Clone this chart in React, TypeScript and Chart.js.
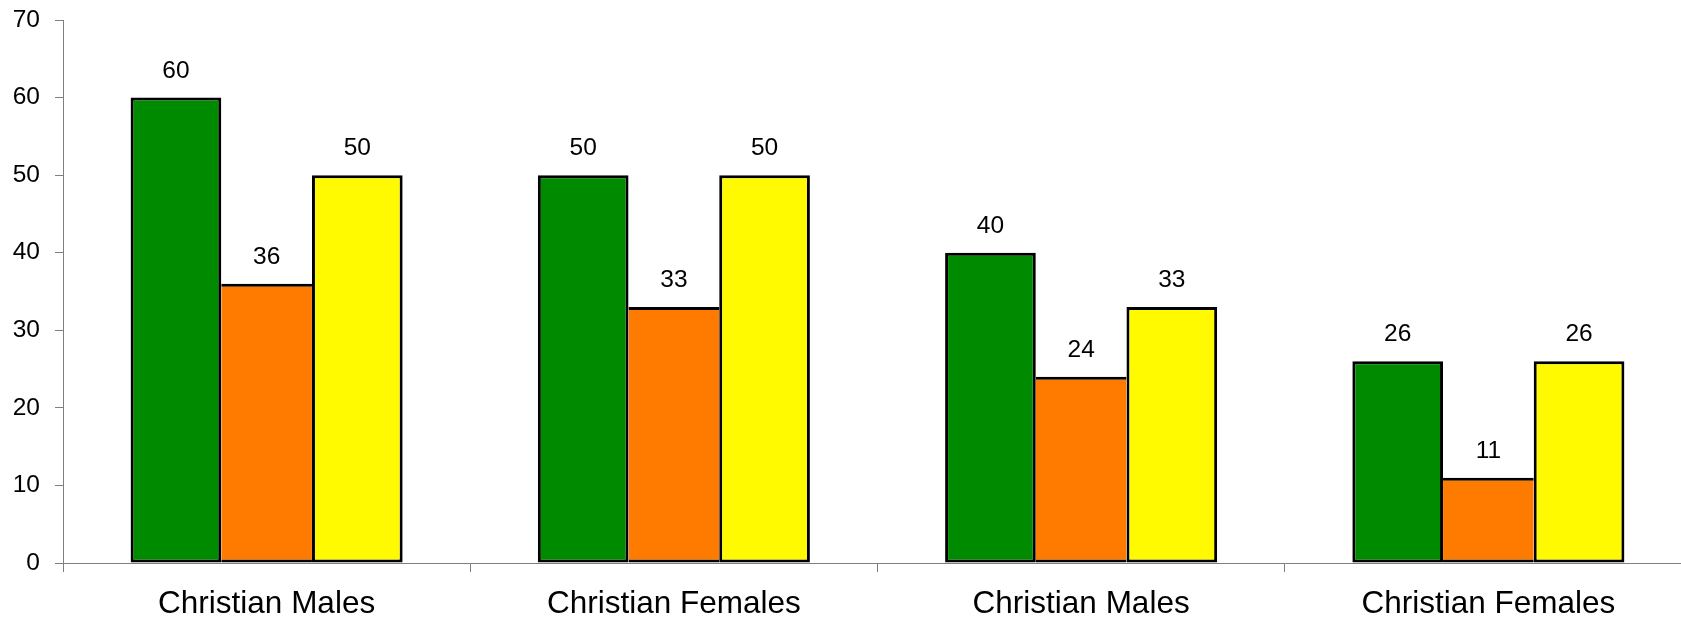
import { useEffect, useRef } from "react";
import { Chart, registerables } from "chart.js";

Chart.register(...registerables);

const categories = ["Christian Males", "Christian Females", "Christian Males", "Christian Females"];
const greenValues = [60, 50, 40, 26];
const orangeValues = [36, 33, 24, 11];
const yellowValues = [50, 50, 33, 26];
const yMin = 0;
const yMax = 70;
const yStep = 10;

const FONT = "'Liberation Sans', Arial, sans-serif";
const AXIS_GRAY = "#7f7f7f";

const valueLabels = {
  id: "valueLabels",
  afterDatasetsDraw(chart: any) {
    const ctx = chart.ctx;
    ctx.save();
    ctx.font = `24.5px ${FONT}`;
    ctx.fillStyle = "#000";
    ctx.textAlign = "center";
    ctx.textBaseline = "alphabetic";
    chart.data.datasets.forEach((ds: any, di: number) => {
      const meta = chart.getDatasetMeta(di);
      meta.data.forEach((el: any, i: number) => {
        ctx.fillText(String(ds.data[i]), el.x, el.y - 20);
      });
    });
    ctx.restore();
  },
};

export default function App() {
  const ref = useRef<HTMLCanvasElement | null>(null);
  useEffect(() => {
    if (!ref.current) return;
    const chart = new Chart(ref.current, {
      type: "bar",
      data: {
        labels: categories,
        datasets: [
          {
            data: greenValues,
            backgroundColor: "#008a00",
            borderColor: "#000",
            borderWidth: 3,
            borderSkipped: false,
          },
          {
            data: orangeValues,
            backgroundColor: "#ff7b00",
            borderColor: "#000",
            borderWidth: { top: 3, bottom: 3, left: 0, right: 0 },
            borderSkipped: false,
          },
          {
            data: yellowValues,
            backgroundColor: "#fffa00",
            borderColor: "#000",
            borderWidth: 3,
            borderSkipped: false,
          },
        ],
      },
      options: {
        responsive: false,
        animation: false,
        events: [],
        layout: { padding: { left: 0, top: 20, right: 28, bottom: 0 } },
        datasets: {
          bar: { categoryPercentage: 0.668, barPercentage: 1.0 },
        },
        plugins: {
          legend: { display: false },
          tooltip: { enabled: false },
          title: { display: false },
        },
        scales: {
          x: {
            type: "category",
            offset: true,
            grid: {
              offset: true,
              drawOnChartArea: false,
              drawTicks: true,
              tickLength: 9,
              color: AXIS_GRAY,
              lineWidth: 1,
            },
            border: { display: true, color: AXIS_GRAY, width: 1 },
            ticks: {
              font: { family: FONT, size: 31.5 },
              color: "#000",
              padding: 13,
              maxRotation: 0,
              autoSkip: false,
            },
            afterFit(scale: any) {
              scale.height = 56;
              scale.paddingLeft = 0;
              scale.paddingRight = 0;
            },
          },
          y: {
            min: yMin,
            max: yMax,
            ticks: {
              stepSize: yStep,
              font: { family: FONT, size: 24.5 },
              color: "#000",
              padding: 15,
            },
            grid: {
              drawOnChartArea: false,
              drawTicks: true,
              tickLength: 8,
              color: AXIS_GRAY,
              lineWidth: 1,
            },
            border: { display: true, color: AXIS_GRAY, width: 1 },
            afterFit(scale: any) {
              scale.width = 63;
              scale.paddingTop = 10;
              scale.paddingBottom = 10;
            },
          },
        },
      },
      plugins: [valueLabels],
    } as any);
    return () => chart.destroy();
  }, []);

  return (
    <div
      style={{
        position: "fixed",
        left: 0,
        top: 0,
        width: 1681,
        height: 619,
        overflow: "hidden",
        background: "#fff",
      }}
    >
      <canvas
        ref={ref}
        width={1720}
        height={619}
        style={{ display: "block", width: 1720, height: 619 }}
      />
    </div>
  );
}
